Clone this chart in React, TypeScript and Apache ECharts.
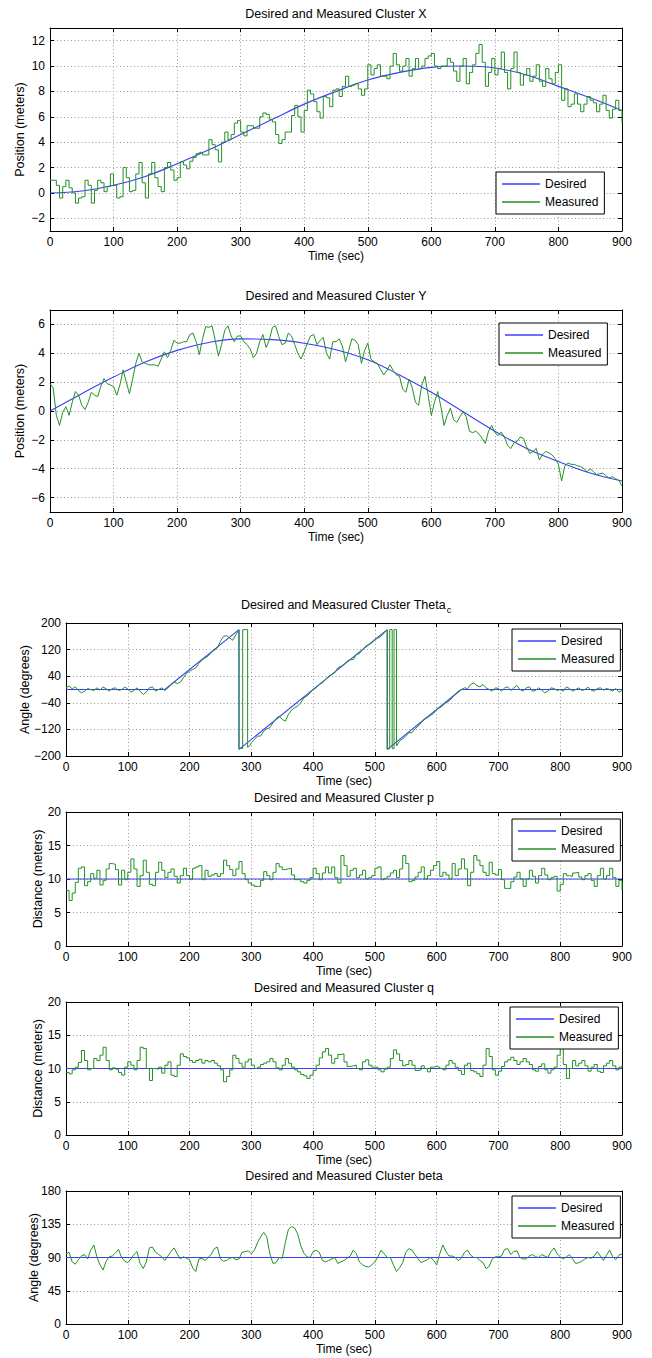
import React, { useEffect, useRef } from "react";
import * as echarts from "echarts";

// ---------- data ----------
const SAMPLE_STEP = 5; // seconds between measured samples

const DES_T = [0, 50, 100, 150, 200, 250, 300, 350, 400, 450, 500, 550, 600, 650, 700, 750, 800, 850, 900];
const X_DESIRED = [0, 0.15, 0.6, 1.3, 2.3, 3.4, 4.6, 5.8, 7.0, 8.0, 8.9, 9.5, 9.9, 10.0, 9.85, 9.3, 8.4, 7.5, 6.5];
const Y_DESIRED = [0, 1.2, 2.35, 3.4, 4.2, 4.75, 5.0, 4.95, 4.7, 4.25, 3.55, 2.5, 1.3, -0.05, -1.4, -2.6, -3.5, -4.3, -4.85];

const X_MEASURED = [
  1.0, 1.0, 0.6, -0.4, 0.5, 1.0, 0.4, 0.0, -0.8, -0.4, -0.3, 1.0, 0.6, -0.8, 0.2, 1.0, 0.8, 0.1, 0.5, 1.5,
  0.6, -0.4, -0.3, 2.0, 1.2, 0.1, 0.2, 1.5, 2.4, 0.8, -0.4, 1.5, 2.4, 1.2, 0.5, 0.1, 2.0, 2.4, 1.8, 1.0,
  1.2, 2.45, 2.2, 1.9, 2.5, 2.8, 3.1, 3.2, 3.0, 3.0, 4.2, 3.8, 3.4, 2.45, 4.0, 4.8, 4.2, 4.6, 5.5, 5.7,
  4.8, 4.5, 5.3, 5.3, 5.1, 5.1, 6.0, 6.3, 6.2, 5.8, 5.6, 4.6, 3.9, 4.2, 4.8, 4.8, 6.1, 6.9, 6.0, 4.8,
  6.5, 8.1, 7.8, 7.2, 6.4, 5.9, 7.6, 7.5, 6.8, 8.1, 8.2, 7.6, 8.4, 9.2, 8.4, 8.5, 8.6, 8.2, 7.7, 8.2,
  10.1, 9.3, 9.8, 10.1, 9.2, 9.2, 9.0, 10.0, 11.0, 10.1, 9.6, 10.0, 10.6, 9.2, 9.8, 10.6, 9.8, 10.0, 10.6, 10.8,
  11.0, 10.0, 9.8, 10.0, 10.0, 10.6, 10.3, 9.6, 8.8, 10.0, 10.6, 8.6, 9.5, 10.1, 11.0, 11.7, 10.3, 8.4, 9.5, 10.6,
  9.3, 9.8, 11.1, 9.5, 8.2, 9.8, 11.1, 9.5, 8.5, 9.3, 9.8, 8.8, 9.2, 10.1, 8.8, 8.4, 9.8, 9.0, 8.6, 9.5,
  10.1, 7.3, 8.2, 6.8, 7.0, 7.8, 7.0, 6.4, 7.0, 7.6, 7.3, 7.1, 6.4, 7.0, 7.7, 6.5, 5.9, 6.6, 7.3, 6.5, 5.5,
];

const Y_MEASURED = [
  1.9, 1.6, -0.3, -1.0, -0.1, 0.3, -0.3, 0.6, 1.35, 1.1, 0.4, 0.1, 0.6, 1.3, 1.1, 1.0, 1.7, 2.25, 1.9, 1.8,
  1.7, 1.1, 1.8, 2.85, 2.0, 1.2, 2.2, 3.3, 4.0, 3.4, 3.3, 3.2, 3.2, 3.2, 3.1, 3.6, 4.1, 3.7, 4.2, 4.9,
  4.7, 4.7, 4.8, 4.8, 5.3, 5.4, 4.8, 3.9, 5.0, 5.85, 5.8, 5.9, 4.9, 3.8, 4.6, 5.6, 5.9, 5.2, 4.8, 5.2,
  5.2, 4.8, 4.6, 4.3, 3.7, 4.0, 4.8, 5.3, 4.4, 4.9, 5.8, 5.9, 5.15, 4.6, 4.7, 5.4, 5.2, 4.6, 4.0, 3.6,
  4.1, 4.7, 5.2, 5.3, 4.6, 4.9, 5.1, 4.0, 3.6, 4.8, 4.8, 5.0, 4.5, 3.4, 4.2, 5.0, 4.9, 4.6, 3.3, 4.2,
  4.7, 3.6, 3.4, 3.3, 2.9, 2.5, 2.8, 3.2, 2.8, 2.5, 2.4, 1.5, 1.3, 2.2, 1.6, 0.6, 0.4, 1.8, 2.4, 1.1,
  -0.3, 0.6, 1.35, 0.3, -1.0, -0.3, 0.2, -0.6, -0.8, -0.4, -0.05, -0.4, -1.4, -1.5, -1.4, -1.6, -1.9, -2.25, -1.4, -1.0,
  -1.5, -1.7, -1.45, -1.8, -2.4, -2.6, -2.2, -2.1, -1.8, -1.9, -2.5, -2.95, -2.8, -2.6, -3.4, -3.0, -2.8, -2.9, -3.05, -3.3,
  -3.7, -4.85, -3.8, -3.6, -3.7, -3.7, -3.8, -3.85, -4.0, -4.2, -4.0, -4.2, -4.4, -4.35, -4.3, -4.5, -4.65, -4.55, -4.7, -4.8, -5.2,
];

const THETA_DES_T = [0, 160, 280, 280, 520, 520, 640, 900];
const THETA_DESIRED = [0, 0, 180, -180, 180, -180, 0, 0];

const THETA_T = [
  0, 5, 10, 15, 20, 25, 30, 35, 40, 45, 50, 55, 60, 65, 70, 75, 80, 85, 90, 95,
  100, 105, 110, 115, 120, 125, 130, 135, 140, 145, 150, 155, 160, 165, 170, 175, 180, 185, 190, 195,
  200, 205, 210, 215, 220, 225, 230, 235, 240, 245, 250, 255, 260, 265, 270, 275,
  279, 280, 280, 283, 286, 286, 294, 294, 298,
  300, 305, 310, 315, 320, 325, 330, 335, 340, 345, 350, 355, 360, 365, 370, 375, 380, 385, 390, 395,
  400, 405, 410, 415, 420, 425, 430, 435, 440, 445, 450, 455, 460, 465, 470, 475, 480, 485, 490, 495,
  500, 505, 510, 515,
  519, 520, 520, 524, 524, 528, 528, 531, 531, 535, 535,
  540, 545, 550, 555, 560, 565, 570, 575, 580, 585, 590, 595, 600, 605, 610, 615, 620, 625, 630, 635,
  640, 645, 650, 655, 660, 665, 670, 675, 680, 685, 690, 695, 700, 705, 710, 715, 720, 725, 730, 735,
  740, 745, 750, 755, 760, 765, 770, 775, 780, 785, 790, 795, 800, 805, 810, 815, 820, 825, 830, 835,
  840, 845, 850, 855, 860, 865, 870, 875, 880, 885, 890, 895, 900,
];
const THETA_MEASURED = [
  5, 10, 2, 8, -3, -10, -5, 3, 0, -3, 5, -2, 8, 2, -5, 3, 5, -3, 0, 7,
  2, -8, -3, 5, -5, -15, -8, 5, 8, -5, 0, 5, -3, 5, 15, 22, 18, 22, 35, 48,
  55, 60, 65, 78, 88, 95, 100, 112, 118, 125, 145, 160, 162, 155, 148, 165,
  176, 179, -179, -177, -178, 180, 180, -174, -168,
  -160, -150, -140, -140, -125, -118, -115, -100, -88, -80, -90, -95, -75, -62, -55, -50, -40, -25, -20, -10,
  0, 5, 15, 20, 30, 40, 45, 50, 65, 70, 75, 85, 90, 90, 105, 108, 120, 130, 135, 140,
  150, 155, 160, 170,
  177, 179, -179, -178, 180, 180, -178, -177, 180, 180, -170,
  -155, -148, -140, -130, -130, -118, -110, -100, -88, -85, -78, -72, -60, -55, -48, -40, -35, -25, -15, -5,
  0, 5, 3, 15, 20, 12, 8, 15, 5, 0, -5, 5, 3, -5, 5, 8, -3, 5, 12, 0,
  -5, 5, 8, -5, -3, 5, -2, -10, -5, 5, 3, -3, 0, -5, 8, 3, -5, 0, 5, -3,
  0, 7, -2, -5, 3, 5, -2, 3, 0, -5, 3, -8, -3,
];

const CONST_T = [0, 900];
const P_DESIRED = [10, 10];
const Q_DESIRED = [10, 10];
const BETA_DESIRED = [90, 90];

const P_MEASURED = [
  8.3, 6.8, 7.9, 9.5, 11.6, 11.8, 9.0, 9.6, 10.8, 10.1, 11.3, 9.1, 9.8, 11.5, 12.3, 12.2, 11.4, 9.1, 11.3, 9.9,
  11.0, 13.0, 11.5, 8.9, 10.5, 12.8, 11.0, 9.2, 9.0, 11.0, 12.5, 11.3, 10.2, 11.0, 11.5, 10.4, 9.4, 10.5, 11.6, 10.5,
  9.9, 11.6, 11.8, 12.0, 9.9, 11.3, 10.4, 10.6, 10.8, 10.4, 10.8, 12.8, 12.0, 11.4, 10.5, 11.5, 12.6, 10.8, 9.9, 9.4,
  9.1, 8.9, 8.9, 9.8, 11.1, 10.5, 9.9, 11.0, 12.3, 11.8, 11.4, 11.5, 11.6, 10.6, 9.9, 9.9, 9.6, 9.4, 9.8, 10.2,
  11.6, 10.8, 9.9, 10.9, 11.8, 10.9, 11.8, 10.2, 9.4, 13.5, 12.0, 10.4, 11.3, 11.6, 10.2, 10.6, 11.3, 10.0, 10.2, 10.5,
  11.6, 11.8, 9.9, 10.1, 10.4, 10.9, 11.3, 10.2, 11.5, 13.5, 12.3, 9.6, 9.8, 10.3, 11.0, 11.8, 10.0, 10.5, 11.3, 12.0,
  12.6, 10.4, 11.0, 10.6, 10.0, 12.3, 10.5, 11.5, 13.0, 11.5, 9.0, 11.0, 13.5, 12.8, 12.0, 11.0, 10.5, 12.5, 10.8, 10.6,
  11.4, 9.9, 8.6, 8.6, 9.6, 10.3, 11.0, 10.0, 8.9, 10.0, 11.3, 10.4, 9.4, 10.5, 11.6, 10.6, 9.9, 10.2, 10.4, 8.2,
  9.2, 10.8, 10.5, 10.4, 10.9, 11.0, 10.3, 9.9, 10.5, 10.8, 9.8, 8.9, 10.5, 11.6, 10.0, 10.5, 11.6, 10.2, 8.9, 9.8, 8.4,
];

const Q_MEASURED = [
  9.4, 9.2, 9.8, 10.2, 10.9, 12.7, 11.2, 9.8, 10.0, 11.5, 11.2, 12.0, 13.2, 11.2, 9.8, 10.1, 9.9, 9.4, 9.0, 10.2,
  11.0, 10.5, 9.8, 11.2, 13.2, 13.0, 10.0, 8.2, 10.0, 9.9, 10.2, 9.3, 10.5, 11.0, 9.0, 8.8, 10.5, 12.2, 11.8, 11.6,
  11.2, 10.9, 11.2, 11.4, 10.8, 11.2, 11.0, 11.2, 10.8, 10.4, 9.8, 8.0, 8.8, 9.8, 12.0, 11.5, 10.8, 10.2, 11.0, 11.4,
  10.5, 10.0, 10.2, 10.6, 10.8, 11.0, 11.5, 11.0, 10.1, 9.8, 10.5, 11.5, 10.8, 10.2, 9.8, 9.5, 9.1, 8.9, 8.5, 9.0,
  9.7, 10.5, 11.6, 12.5, 13.0, 12.0, 10.8, 11.5, 12.1, 12.2, 11.0, 10.3, 10.4, 10.5, 10.0, 9.8, 11.0, 11.3, 10.5, 10.2,
  10.2, 9.8, 9.5, 9.9, 10.2, 11.5, 12.8, 12.2, 11.2, 10.4, 10.6, 11.2, 10.5, 9.7, 9.8, 10.4, 10.0, 9.5, 10.2, 10.3,
  10.2, 10.0, 9.8, 10.5, 11.2, 10.8, 10.2, 9.7, 9.1, 10.5, 10.8, 9.7, 9.5, 9.2, 8.8, 10.5, 13.0, 11.8, 9.8, 9.0,
  9.6, 10.3, 11.0, 11.3, 11.7, 11.2, 10.6, 11.0, 11.5, 11.0, 10.6, 9.8, 9.6, 10.3, 10.7, 9.8, 9.3, 9.8, 10.2, 12.0,
  13.2, 10.6, 8.5, 10.0, 11.2, 10.4, 10.8, 11.2, 10.4, 9.6, 10.2, 10.6, 9.6, 9.4, 10.4, 10.8, 11.2, 10.4, 9.8, 10.2, 10.5,
];

const BETA_MEASURED = [
  95, 97, 84, 81, 87, 92, 94, 88, 100, 107, 91, 80, 73, 85, 91, 92, 96, 101, 90, 85,
  83, 88, 94, 98, 82, 75, 84, 103, 104, 97, 94, 91, 86, 92, 98, 103, 95, 88, 91, 89,
  87, 76, 71, 88, 89, 86, 90, 94, 102, 104, 88, 85, 86, 89, 90, 87, 88, 97, 98, 99,
  95, 100, 110, 118, 124, 118, 95, 82, 83, 90, 89, 110, 128, 132, 130, 122, 106, 96, 91, 90,
  98, 100, 97, 86, 84, 86, 88, 90, 82, 84, 86, 89, 92, 100, 95, 84, 80, 78, 77, 80,
  84, 91, 100, 95, 90, 90, 80, 71, 76, 83, 97, 102, 100, 94, 88, 83, 85, 87, 90, 86,
  80, 95, 107, 98, 92, 92, 90, 86, 89, 97, 100, 93, 90, 90, 86, 83, 75, 78, 88, 91,
  91, 92, 101, 102, 94, 98, 99, 90, 88, 88, 92, 94, 91, 90, 94, 92, 90, 98, 103, 95,
  91, 88, 91, 94, 88, 82, 83, 85, 88, 90, 89, 92, 98, 92, 86, 93, 100, 91, 87, 93, 95,
];

const X_TICKS = [0, 100, 200, 300, 400, 500, 600, 700, 800, 900];
const Y_TICKS_X = [-2, 0, 2, 4, 6, 8, 10, 12];
const Y_TICKS_Y = [-6, -4, -2, 0, 2, 4, 6];
const Y_TICKS_THETA = [-200, -120, -40, 40, 120, 200];
const Y_TICKS_P = [0, 5, 10, 15, 20];
const Y_TICKS_Q = [0, 5, 10, 15, 20];
const Y_TICKS_BETA = [0, 45, 90, 135, 180];

const TITLES = [
  "Desired and Measured Cluster X",
  "Desired and Measured Cluster Y",
  "Desired and Measured Cluster Theta",
  "Desired and Measured Cluster p",
  "Desired and Measured Cluster q",
  "Desired and Measured Cluster beta",
];
const Y_NAMES = [
  "Position (meters)",
  "Position (meters)",
  "Angle (degrees)",
  "Distance (meters)",
  "Distance (meters)",
  "Angle (degrees)",
];

// ---------- styling / layout ----------
const FONT = "'Liberation Sans', Arial, Helvetica, sans-serif";
const BLUE = "#3c3cff";
const GREEN = "#239023";

const LAYOUT = [
  { grid: { left: 50, top: 28, width: 572, height: 203 }, titleY: 14, nameGap: 24, legend: { left: 496, top: 172 }, yMin: -3, yMax: 13 },
  { grid: { left: 50, top: 310, width: 572, height: 202 }, titleY: 296, nameGap: 24, legend: { left: 499, top: 323 }, yMin: -7, yMax: 7 },
  { grid: { left: 66, top: 623, width: 556, height: 133 }, titleY: 605, nameGap: 35, legend: { left: 512, top: 629 }, yMin: -200, yMax: 200 },
  { grid: { left: 66, top: 812, width: 556, height: 134 }, titleY: 798, nameGap: 22, legend: { left: 512, top: 819 }, yMin: 0, yMax: 20 },
  { grid: { left: 66, top: 1002, width: 556, height: 133 }, titleY: 988, nameGap: 22, legend: { left: 510, top: 1007 }, yMin: 0, yMax: 20 },
  { grid: { left: 66, top: 1191, width: 556, height: 133 }, titleY: 1176, nameGap: 26, legend: { left: 512, top: 1196 }, yMin: 0, yMax: 180 },
];

const Y_TICKS = [Y_TICKS_X, Y_TICKS_Y, Y_TICKS_THETA, Y_TICKS_P, Y_TICKS_Q, Y_TICKS_BETA];

const pairs = (t: number[], v: number[]) => v.map((y, i) => [t[i], y]);
const sampled = (v: number[]) => v.map((y, i) => [i * SAMPLE_STEP, y]);

const DESIRED_DATA = [
  pairs(DES_T, X_DESIRED),
  pairs(DES_T, Y_DESIRED),
  pairs(THETA_DES_T, THETA_DESIRED),
  pairs(CONST_T, P_DESIRED),
  pairs(CONST_T, Q_DESIRED),
  pairs(CONST_T, BETA_DESIRED),
];
const MEASURED_DATA = [
  sampled(X_MEASURED),
  sampled(Y_MEASURED),
  pairs(THETA_T, THETA_MEASURED),
  sampled(P_MEASURED),
  sampled(Q_MEASURED),
  sampled(BETA_MEASURED),
];
const STEP = [true, false, false, true, true, false];
const SMOOTH = [0.4, 0.4, false, false, false, false];

const minus = (v: number) => String(v).replace("-", "\u2212");

function buildOption() {
  const grid: any[] = [];
  const xAxis: any[] = [];
  const yAxis: any[] = [];
  const series: any[] = [];
  const legend: any[] = [];
  const graphic: any[] = [];

  const gridLine = { show: true, lineStyle: { color: "#9a9a9a", width: 1, type: [1, 2.5] } };
  const axisLine = { show: true, onZero: false, lineStyle: { color: "#000", width: 1 } };
  const tick = (vals: number[]) => ({ show: true, inside: true, length: 4, customValues: vals, lineStyle: { color: "#000" } });

  LAYOUT.forEach((L, i) => {
    grid.push({ ...L.grid, containLabel: false });
    xAxis.push({
      type: "value", gridIndex: i, min: 0, max: 900, position: "bottom",
      name: "Time (sec)", nameLocation: "middle", nameGap: 19,
      nameTextStyle: { fontSize: 12, fontFamily: FONT, color: "#000" },
      axisLine, axisTick: tick(X_TICKS),
      axisLabel: { customValues: X_TICKS, margin: 5, fontSize: 12, fontFamily: FONT, color: "#000", formatter: minus },
      splitLine: gridLine,
    });
    xAxis.push({
      type: "value", gridIndex: i, min: 0, max: 900, position: "top",
      axisLine, axisTick: tick(X_TICKS), axisLabel: { show: false }, splitLine: { show: false },
    });
    yAxis.push({
      type: "value", gridIndex: i, min: L.yMin, max: L.yMax, position: "left",
      name: Y_NAMES[i], nameLocation: "middle", nameGap: L.nameGap, nameRotate: 90,
      nameMoveOverlap: false,
      nameTextStyle: { fontSize: 12.5, fontFamily: FONT, color: "#000" },
      axisLine, axisTick: tick(Y_TICKS[i]),
      axisLabel: { customValues: Y_TICKS[i], margin: 5, fontSize: 12, fontFamily: FONT, color: "#000", formatter: minus, showMinLabel: true, showMaxLabel: true },
      splitLine: gridLine,
    });
    yAxis.push({
      type: "value", gridIndex: i, min: L.yMin, max: L.yMax, position: "right",
      axisLine, axisTick: tick(Y_TICKS[i]), axisLabel: { show: false }, splitLine: { show: false },
    });
    series.push({
      type: "line", name: "Desired", xAxisIndex: 2 * i, yAxisIndex: 2 * i,
      data: DESIRED_DATA[i], symbol: "none", smooth: SMOOTH[i],
      lineStyle: { color: BLUE, width: 1.1 }, itemStyle: { color: BLUE }, z: 2,
    });
    series.push({
      type: "line", name: "Measured", xAxisIndex: 2 * i, yAxisIndex: 2 * i,
      data: MEASURED_DATA[i], symbol: "none", step: STEP[i] ? "end" : false,
      lineStyle: { color: GREEN, width: 1 }, itemStyle: { color: GREEN }, z: 3,
    });
    legend.push({
      left: L.legend.left, top: L.legend.top, orient: "vertical",
      data: ["Desired", "Measured"], selectedMode: false,
      icon: "rect", itemWidth: 38, itemHeight: 1.5, itemGap: 4, padding: [5, 6, 5, 6],
      borderColor: "#000", borderWidth: 1, backgroundColor: "#fff", borderRadius: 0,
      textStyle: { fontSize: 12, fontFamily: FONT, color: "#000", lineHeight: 14 },
    });
    const cx = L.grid.left + L.grid.width / 2;
    if (i === 2) {
      graphic.push({
        type: "text", x: cx + 2, y: L.titleY, z: 100,
        style: {
          text: "{a|" + TITLES[i] + "}{b|c}",
          align: "center", verticalAlign: "middle",
          rich: {
            a: { fontSize: 12.5, fontFamily: FONT, fill: "#000" },
            b: { fontSize: 9, fontFamily: FONT, fill: "#000", padding: [9, 0, 0, 1] },
          },
        },
      });
    } else {
      graphic.push({
        type: "text", x: cx, y: L.titleY, z: 100,
        style: { text: TITLES[i], fontSize: 12.5, fontFamily: FONT, fill: "#000", align: "center", verticalAlign: "middle" },
      });
    }
  });

  return { animation: false, backgroundColor: "#fff", grid, xAxis, yAxis, series, legend, graphic };
}

export default function App() {
  const ref = useRef<HTMLDivElement>(null);
  useEffect(() => {
    if (!ref.current) return;
    const chart = echarts.init(ref.current, null, { renderer: "svg" });
    chart.setOption(buildOption() as any);
    return () => chart.dispose();
  }, []);
  return (
    <div
      ref={ref}
      style={{ position: "absolute", left: 0, top: 0, width: 652, height: 1358, background: "#fff" }}
    />
  );
}
